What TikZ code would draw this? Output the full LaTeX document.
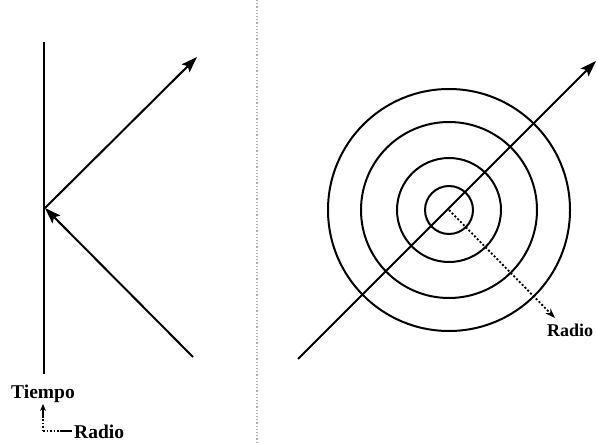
\documentclass[tikz,border=0pt]{standalone}
\usepackage{fontspec}
\setmainfont{Liberation Serif}
\usetikzlibrary{arrows.meta}
\begin{document}
\begin{tikzpicture}[x=1pt,y=-1pt,
  ln/.style={line width=2pt,black},
  arr/.style={ln,-{Stealth[length=16pt,width=11pt,inset=3pt]}},
  ring/.style={line width=2pt,draw=black},
  lbl/.style={inner sep=0pt,font=\bfseries\fontsize{19.5}{22}\selectfont}
]
\useasboundingbox (0,0) rectangle (597,444);
% separator
\draw[gray!60,line width=1.2pt,dotted] (257,0) -- (257,444);
% left panel
\coordinate (top) at (44,42);
\coordinate (bot) at (44,374);
\coordinate (v) at (45,208);
\coordinate (ut) at (197,57);
\coordinate (ls) at (193,357);
\draw[ln] (top) -- (bot);
\draw[arr] (v) -- (ut);
\draw[arr] (ls) -- (v);
\node[lbl,anchor=base west] (tiempo) at (11,398) {Tiempo};
\node[lbl,anchor=base west] (radioL) at (74,438) {Radio};
\coordinate (corner) at (43,431);
\coordinate (upt) at (43,404);
\coordinate (rt) at (72,431);
\draw[line width=1.5pt,dotted] (corner) -- (43,418);
\draw[line width=1.5pt,-{Stealth[length=7pt,width=6pt]}] (43,418) -- (upt);
\draw[line width=1.5pt,dotted] (corner) -- (60,431);
\draw[line width=1.5pt] (60,431) -- (rt);
% right panel
\coordinate (c) at (449,210);
\draw[ring] (c) circle (24);
\draw[ring] (c) circle (52);
\draw[ring] (c) circle (88);
\draw[ring] (c) circle (121);
\coordinate (ds) at (298,359);
\coordinate (dt) at (596,61);
\draw[arr] (ds) -- (dt);
\coordinate (rtip) at (555,318);
\draw[line width=1.8pt,dash pattern=on 2pt off 2pt,-{Stealth[length=10pt,width=7pt]}] (c) -- (rtip);
\node[lbl,font=\bfseries\fontsize{18}{22}\selectfont,anchor=base west] (radioR) at (547,336) {Radio};
\end{tikzpicture}
\end{document}
